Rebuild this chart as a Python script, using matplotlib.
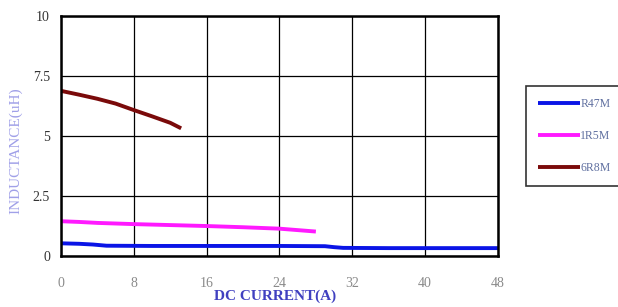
import numpy as np
import matplotlib.pyplot as plt

# datos
corriente_r47 = [0, 2, 3.5, 5, 10, 16, 24, 29, 30, 31, 36, 42, 48]
induct_r47 = [0.53, 0.51, 0.48, 0.43, 0.42, 0.42, 0.42, 0.41, 0.37, 0.34, 0.33, 0.33, 0.33]

corriente_1r5 = [0, 2, 4, 8, 12, 16, 20, 24, 26, 28]
induct_1r5 = [1.45, 1.42, 1.38, 1.33, 1.29, 1.25, 1.20, 1.14, 1.08, 1.02]

corriente_6r8 = [0, 2, 4, 6, 8, 10, 12, 13.2]
induct_6r8 = [6.88, 6.72, 6.55, 6.35, 6.08, 5.82, 5.55, 5.32]

etiquetas = ["R47M", "1R5M", "6R8M"]
colores = ["#0a14e6", "#ff1aff", "#7a0a0a"]

xticks = [0, 8, 16, 24, 32, 40, 48]
yticks = [0, 2.5, 5, 7.5, 10]
yticklabels = ["0", "2.5", "5", "7.5", "10"]

plt.rcParams['font.family'] = ['Liberation Serif', 'DejaVu Serif']

fig = plt.figure(figsize=(6.18, 3.07), dpi=100)
ax = fig.add_axes([0.0987, 0.166, 0.707, 0.782])

series = [(corriente_r47, induct_r47), (corriente_1r5, induct_1r5), (corriente_6r8, induct_6r8)]
lineas = []
for (x, y), lab, col in zip(series, etiquetas, colores):
    l, = ax.plot(x, y, color=col, lw=2.8, label=lab, solid_capstyle='butt')
    lineas.append(l)

ax.set_xlim(0, 48)
ax.set_ylim(0, 10)
ax.set_xticks(xticks)
ax.set_yticks(yticks)
ax.set_yticklabels(yticklabels)
ax.grid(True, color='black', lw=0.9)
ax.tick_params(length=0, labelsize=10)
ax.tick_params(axis='x', pad=15, labelcolor='#8a8a8a')
ax.tick_params(axis='y', pad=8, labelcolor='#333333')
for s in ax.spines.values():
    s.set_linewidth(1.8)
    s.set_color('black')

ax.set_xlabel("DC CURRENT(A)", color='#4040c0', fontsize=11, fontweight='bold')
ax.xaxis.set_label_coords(0.49, -0.14)
ax.set_ylabel("INDUCTANCE(uH)", color='#a0a0e8', fontsize=11)
ax.yaxis.set_label_coords(-0.088, 0.44)

leg = fig.legend(handles=lineas, loc='upper left',
                 bbox_to_anchor=(0.851, 0.72), borderaxespad=0.0,
                 frameon=True, fancybox=False,
                 handlelength=3.6, handletextpad=0.0, labelspacing=1.7,
                 borderpad=1.0, fontsize=8.5)
leg.get_frame().set_edgecolor('black')
leg.get_frame().set_linewidth(1.2)
for t in leg.get_texts():
    t.set_color('#6070a0')

fig.savefig("out.png", dpi=100)
